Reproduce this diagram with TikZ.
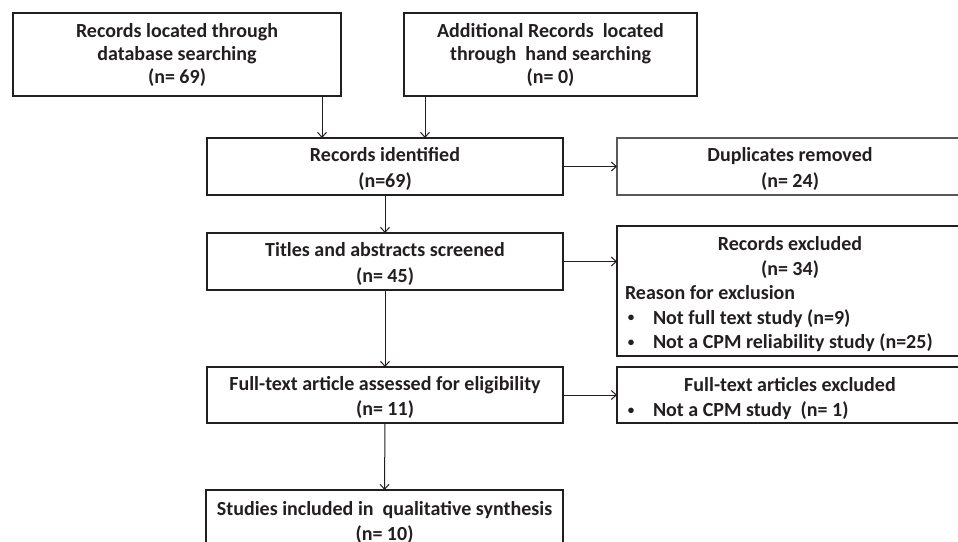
\documentclass[tikz,border=0pt]{standalone}
\usepackage{fontspec}
\setmainfont{Carlito}
\usetikzlibrary{arrows.meta,calc}
\definecolor{ink}{RGB}{35,31,32}
\newcommand\tallstrut{\rule{0pt}{19pt}}
\begin{document}
\begin{tikzpicture}[x=1pt,y=-1pt,
  box/.style={draw=ink, line width=1.3pt, rectangle, inner sep=0pt, outer sep=0pt, align=center, text=ink, font=\bfseries\fontsize{20}{25.5}\selectfont},
  tall/.style={font=\bfseries\fontsize{20}{23}\selectfont},
  arr/.style={draw=ink, line width=1pt, -{Straight Barb[length=5pt,width=9pt]}},
  txt/.style={inner sep=0pt, outer sep=0pt, text=ink, font=\bfseries\fontsize{20}{25}\selectfont, anchor=base west},
  bul/.style={inner sep=0pt, outer sep=0pt, text=ink, font=\bfseries\fontsize{13}{13}\selectfont, anchor=base}]
\useasboundingbox (0,0) rectangle (958,541);
\clip (0,0) rectangle (958,541);
\fill[white] (0,0) rectangle (958,541);
% boxes
\node[box, tall, minimum width=328pt, minimum height=83pt] (a) at (177,54.5) {Records located through\\database searching\\(n= 69)};
\node[box, tall, minimum width=293pt, minimum height=83pt] (b) at (550.5,54.5) {Additional Records\ \ located\\through\ \ hand searching\\(n= 0)};
\node[box, minimum width=356pt, minimum height=57pt] (ri) at (385,166.5) {\tallstrut Records identified\\(n=69)};
\node[box, draw=ink!75, minimum width=346pt, minimum height=57pt] (dup) at (790,166.5) {\tallstrut Duplicates removed\\(n= 24)};
\node[box, minimum width=356pt, minimum height=57pt] (ta) at (385,261.5) {\tallstrut Titles and abstracts screened\\(n= 45)};
\node[box, minimum width=346pt, minimum height=130pt] (re) at (790,291) {};
\node[box, minimum width=356pt, minimum height=56pt] (ft) at (385,395) {\tallstrut Full-text article assessed for eligibility\\(n= 11)};
\node[box, minimum width=346pt, minimum height=56pt] (fe) at (790,395) {};
\node[box, minimum width=357pt, minimum height=60pt] (st) at (384.5,520) {\tallstrut Studies included in\ \ qualitative synthesis\\(n= 10)};
% text inside the exclusion boxes
\node[txt, anchor=base] (re1) at (790,250) {Records excluded};
\node[txt, anchor=base] (re2) at (790,275) {(n= 34)};
\node[txt] (re3) at (625,299.5) {Reason for exclusion};
\node[bul] (re4b) at (631,321.5) {•};
\node[txt] (re4) at (653,324) {Not full text study (n=9)};
\node[bul] (re5b) at (631,346) {•};
\node[txt] (re5) at (653,348.5) {Not a CPM reliability study (n=25)};
\node[txt, anchor=base] (fe1) at (790,391.5) {Full-text articles excluded};
\node[bul] (fe2b) at (631,414) {•};
\node[txt] (fe2) at (653,416.5) {Not a CPM study\ \ (n= 1)};
% connectors
\coordinate (a1) at ($(a.south east)+(-19,0)$);
\coordinate (b1) at ($(b.south west)+(21,0)$);
\draw[arr] (a1) -- (a1 |- ri.north);
\draw[arr] (b1) -- (b1 |- ri.north);
\draw[arr] (ri.east) -- (ri.east -| dup.west);
\draw[arr] (ri.south) -- (ta.north);
\draw[arr] (ta.east) -- (ta.east -| re.west);
\draw[arr] (ta.south) -- (ft.north);
\draw[arr] (ft.east) -- (ft.east -| fe.west);
\draw[arr] (ft.south) -- (st.north);
\end{tikzpicture}
\end{document}
